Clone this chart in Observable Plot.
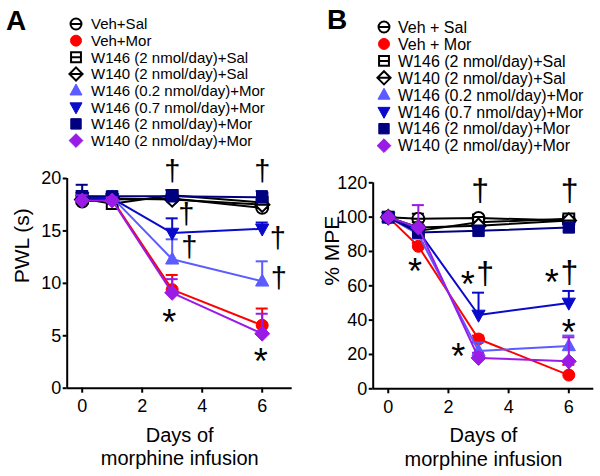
<!DOCTYPE html>
<html><head><meta charset="utf-8">
<script src="https://cdn.jsdelivr.net/npm/d3@7"></script>
<script src="https://cdn.jsdelivr.net/npm/@observablehq/plot@0.6"></script>
<style>
body{margin:0;background:#fff;font-family:"Liberation Sans",Arial,sans-serif;}
#root{position:relative;width:600px;height:476px;overflow:hidden;background:#fff;}
#legend{position:absolute;left:0;top:0;}
.plot{position:absolute;top:150px;}
</style></head>
<body><div id="root"></div>
<script>
// ---------- data ----------
const days = [0, 1, 3, 6];
const xTicks = [0, 2, 4, 6];
const pwlTicks = [0, 5, 10, 15, 20];
const mpeTicks = [0, 20, 40, 60, 80, 100, 120];

const groupsA = ["Veh+Sal", "Veh+Mor", "W146 (2 nmol/day)+Sal", "W140 (2 nmol/day)+Sal",
  "W146 (0.2 nmol/day)+Mor", "W146 (0.7 nmol/day)+Mor", "W146 (2 nmol/day)+Mor", "W140 (2 nmol/day)+Mor"];
const groupsB = ["Veh + Sal", "Veh + Mor", "W146 (2 nmol/day)+Sal", "W140 (2 nmol/day)+Sal",
  "W146 (0.2 nmol/day)+Mor", "W146 (0.7 nmol/day)+Mor", "W146 (2 nmol/day)+Mor", "W140 (2 nmol/day)+Mor"];

// PWL (s), panel A — one row per group, columns = days
const pwlMean = [
  [17.8, 18.0, 18.1, 17.2],
  [18.0, 18.0, 9.4, 6.0],
  [18.1, 17.6, 18.4, 17.7],
  [18.0, 18.1, 18.0, 17.5],
  [18.3, 18.2, 12.3, 10.2],
  [18.2, 18.1, 14.8, 15.2],
  [18.3, 18.3, 18.3, 18.2],
  [17.9, 17.9, 9.1, 5.2]
];
const pwlErr = [
  [0.3, 0.2, 0.3, 0.4],
  [0.4, 0.3, 1.4, 1.6],
  [0.3, 0.3, 0.5, 0.3],
  [0.3, 0.3, 0.5, 0.4],
  [0.5, 0.3, 1.9, 1.9],
  [0.6, 0.3, 1.4, 0.6],
  [1.1, 0.4, 0.6, 0.6],
  [0.5, 0.3, 1.3, 1.9]
];
// % MPE, panel B
const mpeMean = [
  [100, 99, 99.5, 98],
  [100, 83, 29, 8],
  [100, 92, 97, 99],
  [100, 94, 95, 98],
  [100, 90, 22, 25],
  [100, 92, 43, 50],
  [100, 91, 92, 94],
  [100, 94, 18, 16]
];
const mpeErr = [
  [0, 3, 2, 2],
  [0, 2, 2, 6],
  [0, 3, 2, 2],
  [0, 3, 2, 2],
  [0, 4, 5, 6],
  [0, 3, 13, 7],
  [0, 3, 2, 2],
  [0, 13, 3, 14]
];
// significance marks (data coordinates)
const daggerAX = [3, 6, 3.47, 3.57, 6.52, 6.55];
const daggerAY = [20.6, 20.6, 16.5, 13.4, 14.3, 10.4];
const starAX = [2.9, 5.95];
const starAY = [7.1, 3.45];
const daggerBX = [3.05, 6.03, 3.22, 6.02];
const daggerBY = [115.5, 115.5, 67, 67.5];
const starBX = [0.89, 2.64, 5.43, 6.0, 2.33];
const starBY = [73.7, 66, 67, 37.9, 24.2];

// ---------- styles ----------
const S = {
  thetaCircle: {draw(c, s) {const r = Math.sqrt(s / Math.PI); c.moveTo(r, 0); c.arc(0, 0, r, 0, 2 * Math.PI); c.moveTo(-r, 0); c.lineTo(r, 0);}},
  circle: {draw(c, s) {const r = Math.sqrt(s / Math.PI); c.moveTo(r, 0); c.arc(0, 0, r, 0, 2 * Math.PI);}},
  thetaSquare: {draw(c, s) {const w = Math.sqrt(s / Math.PI) * 0.9; c.moveTo(-w, -w); c.lineTo(w, -w); c.lineTo(w, w); c.lineTo(-w, w); c.closePath(); c.moveTo(-w, 0); c.lineTo(w, 0);}},
  thetaDiamond: {draw(c, s) {const w = Math.sqrt(s / Math.PI) * 1.2; c.moveTo(0, -w); c.lineTo(w, 0); c.lineTo(0, w); c.lineTo(-w, 0); c.closePath(); c.moveTo(-w, 0); c.lineTo(w, 0);}},
  triUp: {draw(c, s) {const r = Math.sqrt(s / Math.PI); c.moveTo(0, -r * 1.2); c.lineTo(r * 1.1, r * 0.8); c.lineTo(-r * 1.1, r * 0.8); c.closePath();}},
  triDown: {draw(c, s) {const r = Math.sqrt(s / Math.PI); c.moveTo(0, r * 1.2); c.lineTo(r * 1.1, -r * 0.8); c.lineTo(-r * 1.1, -r * 0.8); c.closePath();}},
  square: {draw(c, s) {const w = Math.sqrt(s / Math.PI) * 0.95; c.moveTo(-w, -w); c.lineTo(w, -w); c.lineTo(w, w); c.lineTo(-w, w); c.closePath();}},
  diamond: {draw(c, s) {const w = Math.sqrt(s / Math.PI) * 1.25; c.moveTo(0, -w); c.lineTo(w, 0); c.lineTo(0, w); c.lineTo(-w, 0); c.closePath();}}
};
const groupStyle = [
  {symbol: S.thetaCircle, color: "#000000", open: true},
  {symbol: S.circle, color: "#ff0000", open: false},
  {symbol: S.thetaSquare, color: "#000000", open: true},
  {symbol: S.thetaDiamond, color: "#000000", open: true},
  {symbol: S.triUp, color: "#5b5bff", open: false},
  {symbol: S.triDown, color: "#0a0acc", open: false},
  {symbol: S.square, color: "#000080", open: false},
  {symbol: S.diamond, color: "#9a1be6", open: false}
];
const FONT = "'Liberation Sans', Arial, sans-serif";

// ---------- legend ----------
const root = d3.select("#root");
const leg = root.append("svg").attr("id", "legend").attr("width", 600).attr("height", 165)
  .style("font-family", FONT);
leg.append("text").attr("x", 6).attr("y", 30).attr("font-size", 28).attr("font-weight", "bold").text("A");
leg.append("text").attr("x", 327).attr("y", 29).attr("font-size", 28).attr("font-weight", "bold").text("B");
function legend(names, sx, tx, y0, step, fs) {
  names.forEach((name, i) => {
    const st = groupStyle[i];
    const y = y0 + i * step;
    leg.append("path")
      .attr("transform", `translate(${sx},${y})`)
      .attr("d", d3.symbol(st.symbol, Math.PI * 30)())
      .attr("fill", st.open ? "white" : st.color)
      .attr("stroke", st.color)
      .attr("stroke-width", st.open ? 2 : 1);
    leg.append("text").attr("x", tx).attr("y", y + fs * 0.36).attr("font-size", fs).text(name);
  });
}
legend(groupsA, 76, 91, 24, 16.65, 15);
legend(groupsB, 384, 398, 27, 16.95, 16);

// ---------- panels ----------
function panel(o) {
  const rows = [];
  groupStyle.forEach((st, i) => days.forEach((d, j) =>
    rows.push({g: i, x: d, y: o.means[i][j], e: o.errs[i][j], top: o.means[i][j] + o.errs[i][j]})));
  const marks = [
    Plot.ruleX([o.xDomain[0]], {stroke: "black", strokeWidth: 2}),
    Plot.ruleY([0], {stroke: "black", strokeWidth: 2}),
    Plot.axisY({ticks: o.yTicks, tickSize: 4, tickPadding: 2, fontSize: o.tickFont, strokeWidth: 2, label: null}),
    Plot.axisX({ticks: xTicks, tickSize: 5, tickPadding: 6, fontSize: o.tickFont, strokeWidth: 2, label: null}),
    Plot.text([o.ylabel], {frameAnchor: "left", rotate: -90, dx: -o.ylabelOffset, fontSize: 21, fill: "black"}),
    Plot.text(["Days of\nmorphine infusion"], {frameAnchor: "bottom", lineAnchor: "top", dy: 37, fontSize: 20, lineHeight: 1.17, fill: "black"})
  ];
  groupStyle.forEach((st, i) => {
    const data = rows.filter(r => r.g === i);
    const eb = data.filter(r => r.e > 0);
    const lc = st.color;
    marks.push(Plot.line(data, {x: "x", y: "y", stroke: lc, strokeWidth: 2}));
    marks.push(Plot.ruleX(eb, {x: "x", y1: "y", y2: "top", stroke: lc, strokeWidth: 2}));
    marks.push(Plot.ruleY(eb, {y: "top", x1: r => r.x - 0.2, x2: r => r.x + 0.2, stroke: lc, strokeWidth: 2}));
    marks.push(Plot.dot(data, {x: "x", y: "y", r: 6, symbol: st.symbol, fill: st.open ? "white" : st.color, stroke: lc, strokeWidth: st.open ? 2 : 1}));
  });
  marks.push(Plot.text(o.daggerX, {x: d => d, y: (d, i) => o.daggerY[i], text: () => "†", fontSize: o.daggerFont, fill: "black"}));
  marks.push(Plot.text(o.starX, {x: d => d, y: (d, i) => o.starY[i], text: () => "*", fontSize: 36, dy: 10, fill: "black"}));
  return Plot.plot({
    width: 300, height: 326,
    marginLeft: o.ml, marginRight: o.mr, marginTop: o.mt, marginBottom: o.mb,
    x: {domain: o.xDomain},
    y: {domain: o.yDomain},
    style: {fontFamily: FONT, background: "transparent", color: "black", overflow: "visible"},
    marks
  });
}

const pA = panel({means: pwlMean, errs: pwlErr, yTicks: pwlTicks, yDomain: [0, 20], xDomain: [-0.5, 7],
  ml: 66.7, mr: 8.3, mt: 28, mb: 88.3, tickFont: 18, ylabel: "PWL (s)", ylabelOffset: 45,
  daggerX: daggerAX, daggerY: daggerAY, starX: starAX, starY: starAY, daggerFont: 29});
const pB = panel({means: mpeMean, errs: mpeErr, yTicks: mpeTicks, yDomain: [0, 120], xDomain: [-0.5, 6.83],
  ml: 72.7, mr: 6.7, mt: 32.3, mb: 87.7, tickFont: 18, ylabel: "% MPE", ylabelOffset: 41,
  daggerX: daggerBX, daggerY: daggerBY, starX: starBX, starY: starBY, daggerFont: 32});
const dA = root.append("div").attr("class", "plot").style("left", "0px").node();
dA.appendChild(pA);
const dB = root.append("div").attr("class", "plot").style("left", "300px").node();
dB.appendChild(pB);
</script>
</body></html>
